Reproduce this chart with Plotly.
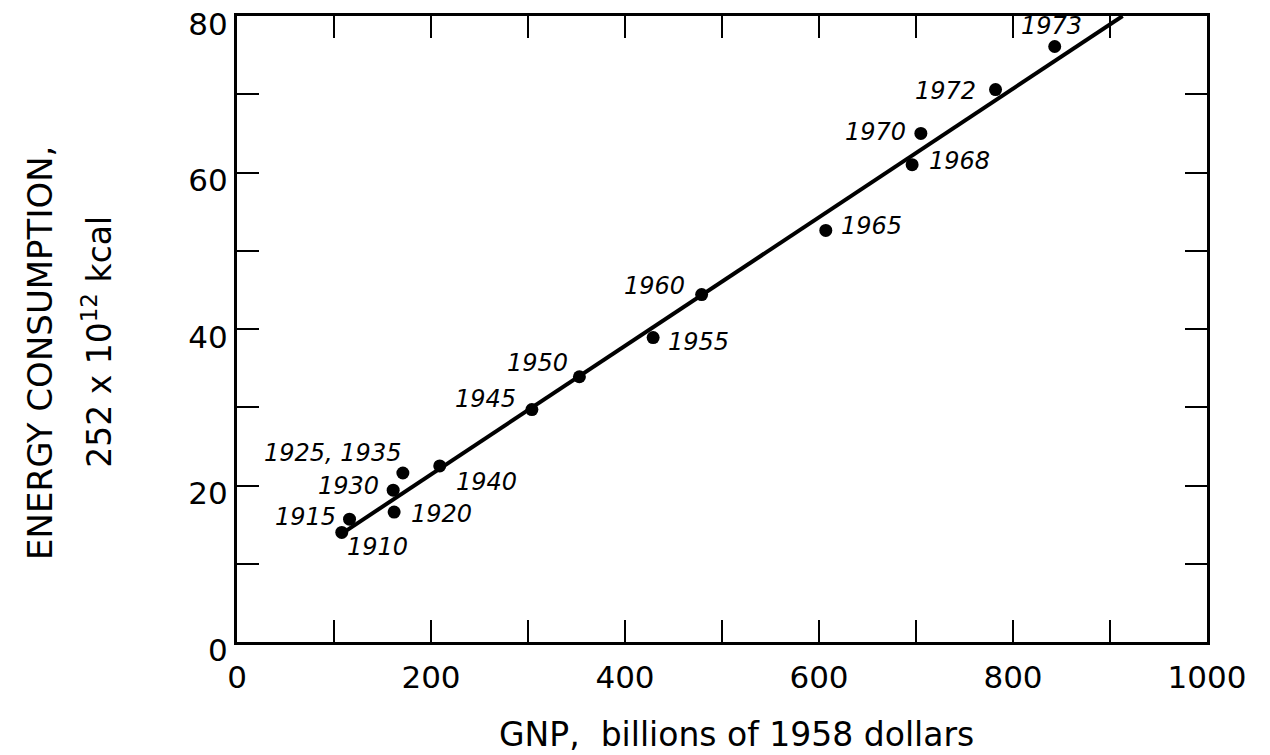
import plotly.graph_objects as go

# ---- data ----
years = ["1910", "1915", "1920", "1930", "1925, 1935", "1940", "1945", "1950",
         "1955", "1960", "1965", "1968", "1970", "1972", "1973"]
gnp = [108, 116, 162, 161, 171, 209, 304, 353, 429, 479, 607, 696, 705, 782, 843]
energy = [14.0, 15.7, 16.6, 19.4, 21.6, 22.5, 29.7, 33.9, 38.9, 44.4, 52.6, 61.0, 65.0, 70.6, 76.1]

fit_gnp = [105, 913]
fit_energy = [13.6, 80.0]

x_tick_vals = [0, 100, 200, 300, 400, 500, 600, 700, 800, 900, 1000]
x_tick_text = ["0", "", "200", "", "400", "", "600", "", "800", "", "1000"]
y_tick_vals = [0, 10, 20, 30, 40, 50, 60, 70, 80]
y_tick_text = ["0", "", "20", "", "40", "", "60", "", "80"]

# label offsets (pixels) relative to each point: styling only
label_dx = [36, -44, 47, -45, -70, 47, -46, -42, 45, -47, 46, 47, -45, -50, -3]
label_dy = [-15, 2, -2, 4, 20, -16, 11, 14, -4, 9, 4, 4, 1, -1, 21]

FONT = "DejaVu Sans"

fig = go.Figure()
fig.add_trace(go.Scatter(x=fit_gnp, y=fit_energy, mode="lines",
                         line=dict(color="black", width=4), hoverinfo="skip"))
fig.add_trace(go.Scatter(x=gnp, y=energy, mode="markers",
                         marker=dict(color="black", size=13), text=years,
                         cliponaxis=False))

for yr, gx, ey, dx, dy in zip(years, gnp, energy, label_dx, label_dy):
    fig.add_annotation(x=gx, y=ey, text=yr, showarrow=False, xshift=dx, yshift=dy,
                       font=dict(family=FONT, size=24, color="black", style="italic"))

fig.add_annotation(xref="paper", yref="paper", x=-0.203, y=0.462,
                   xanchor="center", yanchor="middle",
                   text="ENERGY CONSUMPTION,", textangle=-90, showarrow=False,
                   font=dict(family=FONT, size=34, color="black"))
fig.add_annotation(xref="paper", yref="paper", x=-0.144, y=0.48,
                   xanchor="center", yanchor="middle",
                   text="252 x 10<sup>12</sup> kcal", textangle=-90, showarrow=False,
                   font=dict(family=FONT, size=33, color="black"))
fig.add_annotation(xref="paper", yref="paper", x=0.515, y=-0.148,
                   xanchor="center", yanchor="middle",
                   text="GNP,  billions of 1958 dollars", showarrow=False,
                   font=dict(family=FONT, size=33, color="black"))

axis_common = dict(showgrid=False, zeroline=False, showline=True, linecolor="black",
                   linewidth=3, mirror="ticks", ticks="inside", ticklen=22,
                   tickwidth=2, tickcolor="black", ticklabeloverflow="allow",
                   tickfont=dict(family=FONT, size=31, color="black"))

fig.update_xaxes(range=[0, 1000], tickmode="array", tickvals=x_tick_vals,
                 ticktext=x_tick_text, ticklabelstandoff=6, **axis_common)
fig.update_yaxes(range=[0, 80], tickmode="array", tickvals=y_tick_vals,
                 ticktext=y_tick_text, ticklabelshift=8, **axis_common)

# page body adds an 8px offset, so the figure is 8px smaller than the window
fig.update_layout(width=1262, height=747, showlegend=False,
                  plot_bgcolor="white", paper_bgcolor="white",
                  margin=dict(l=229, r=63, t=8, b=113, autoexpand=False))

fig.write_html("out.html")
